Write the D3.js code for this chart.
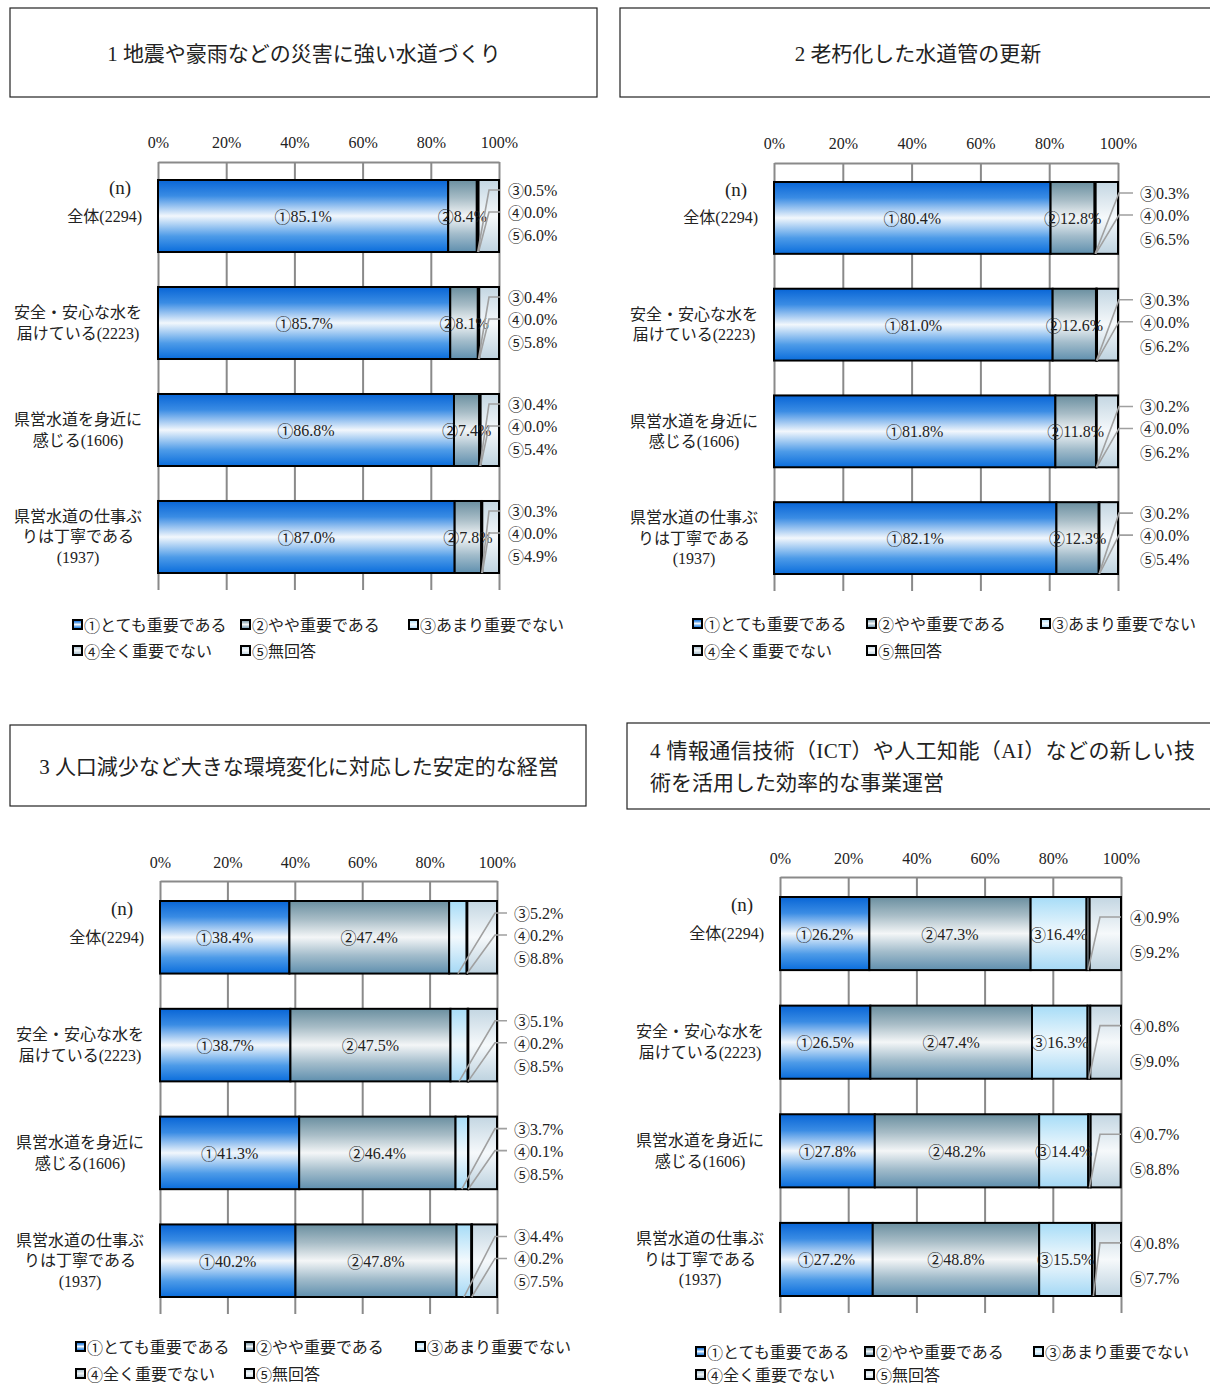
<!DOCTYPE html>
<html>
<head>
<meta charset="utf-8">
<script src="https://cdn.jsdelivr.net/npm/d3@7"></script>
<style>
  body { margin: 0; background: #fff; }
  svg text { font-family: "Liberation Serif", "Noto Sans CJK JP", serif; fill: #222; }
  svg tspan.mark { font-family: "Noto Sans CJK JP", sans-serif; }
</style>
</head>
<body>
<svg id="chart" width="1210" height="1386"></svg>
<script>
// データ
const titles = [
    ["1 地震や豪雨などの災害に強い水道づくり"],
    ["2 老朽化した水道管の更新"],
    ["3 人口減少など大きな環境変化に対応した安定的な経営"],
    ["4 情報通信技術（ICT）や人工知能（AI）などの新しい技", "術を活用した効率的な事業運営"]
];
const categories = [
    ["全体(2294)"],
    ["安全・安心な水を", "届けている(2223)"],
    ["県営水道を身近に", "感じる(1606)"],
    ["県営水道の仕事ぶ", "りは丁寧である", "(1937)"]
];
const seriesNames = ["とても重要である", "やや重要である", "あまり重要でない", "全く重要でない", "無回答"];
const marks = ["①", "②", "③", "④", "⑤"];
const tickValues = [0, 20, 40, 60, 80, 100];

const values1 = [
    [85.1, 8.4, 0.5, 0.0, 6.0],
    [85.7, 8.1, 0.4, 0.0, 5.8],
    [86.8, 7.4, 0.4, 0.0, 5.4],
    [87.0, 7.8, 0.3, 0.0, 4.9]
];
const values2 = [
    [80.4, 12.8, 0.3, 0.0, 6.5],
    [81.0, 12.6, 0.3, 0.0, 6.2],
    [81.8, 11.8, 0.2, 0.0, 6.2],
    [82.1, 12.3, 0.2, 0.0, 5.4]
];
const values3 = [
    [38.4, 47.4, 5.2, 0.2, 8.8],
    [38.7, 47.5, 5.1, 0.2, 8.5],
    [41.3, 46.4, 3.7, 0.1, 8.5],
    [40.2, 47.8, 4.4, 0.2, 7.5]
];
const values4 = [
    [26.2, 47.3, 16.4, 0.9, 9.2],
    [26.5, 47.4, 16.3, 0.8, 9.0],
    [27.8, 48.2, 14.4, 0.7, 8.8],
    [27.2, 48.8, 15.5, 0.8, 7.7]
];

// 配置
const panels = [
    { values: values1, box: [10, 8, 587, 89], titleX: 304, titleY: 54, center: true, titleLen: null,
      x0: 158, x1: 499, tickY: 142, axisY: 162, gridBottom: 590, bars: [180, 573],
      inside: 2, outY: [10, 32, 55], bend: -10, lineEnd: 1, labelDx: 9,
      legendX: [73, 241, 409], legendY: [625, 651] },
    { values: values2, box: [620, 8, 592, 89], titleX: 918, titleY: 54, center: true, titleLen: null,
      x0: 774, x1: 1118, tickY: 143, axisY: 163, gridBottom: 591, bars: [182, 574],
      inside: 2, outY: [11, 33, 57], bend: 1, lineEnd: 15, labelDx: 22,
      legendX: [693, 867, 1041], legendY: [624, 651] },
    { values: values3, box: [10, 725, 576, 81], titleX: 299, titleY: 767, center: true, titleLen: null,
      x0: 160, x1: 497, tickY: 862, axisY: 881, gridBottom: 1314, bars: [901, 1297],
      inside: 2, outY: [12, 34, 57], bend: -2, lineEnd: 10, labelDx: 17,
      legendX: [76, 245, 416], legendY: [1347, 1374] },
    { values: values4, box: [627, 723, 590, 86], titleX: 650, titleY: 751, center: false, titleLen: 545,
      x0: 780, x1: 1121, tickY: 858, axisY: 877, gridBottom: 1313, bars: [897, 1296],
      inside: 3, outY: [20, 55], bend: -21, lineEnd: 0, labelDx: 9,
      legendX: [696, 865, 1034], legendY: [1352, 1375] }
];

const gradStops = [
    [["0%", "#0865d6"], ["22%", "#3a8ce4"], ["50%", "#f2f7fc"], ["78%", "#4d9be8"], ["100%", "#0a6ddc"]],
    [["0%", "#6a8fa0"], ["25%", "#a7bcc6"], ["50%", "#f4f6f7"], ["75%", "#a2bccb"], ["100%", "#5f8fae"]],
    [["0%", "#a6dcf7"], ["50%", "#f2f9fd"], ["100%", "#a4d8f5"]],
    [["0%", "#9fb8c8"], ["50%", "#eef3f6"], ["100%", "#9bb5c6"]],
    [["0%", "#c3d6e2"], ["50%", "#f6f9fb"], ["100%", "#bdd2df"]]
];

const svg = d3.select("#chart");
const defs = svg.append("defs");
gradStops.forEach((stops, i) => {
    const g = defs.append("linearGradient").attr("id", "grad" + i)
        .attr("x1", 0).attr("y1", 0).attr("x2", 0).attr("y2", 1);
    stops.forEach(s => g.append("stop").attr("offset", s[0]).attr("stop-color", s[1]));
});

// 丸数字 + テキスト
function markText(sel, i, rest) {
    sel.append("tspan").attr("class", "mark").text(marks[i]);
    sel.append("tspan").text(rest);
    return sel;
}

panels.forEach((p, idx) => drawPanel(p, idx));

function drawPanel(p, idx) {
    const g = svg.append("g");

    // タイトル枠
    g.append("rect")
        .attr("x", p.box[0]).attr("y", p.box[1])
        .attr("width", p.box[2]).attr("height", p.box[3])
        .attr("fill", "none").attr("stroke", "#222").attr("stroke-width", 1.2);

    titles[idx].forEach((line, i) => {
        const t = g.append("text")
            .attr("x", p.titleX).attr("y", p.titleY + i * 32)
            .attr("text-anchor", p.center ? "middle" : "start")
            .attr("dominant-baseline", "central")
            .style("font-size", "21px")
            .text(line);
        if (p.titleLen && i === 0) t.attr("textLength", p.titleLen).attr("lengthAdjust", "spacing");
    });

    const x = d3.scaleLinear().domain([0, 100]).range([p.x0, p.x1]);
    const y = d3.scaleBand().domain(d3.range(categories.length))
        .range(p.bars).paddingInner(0.327).paddingOuter(0);

    // 軸と目盛線
    const axis = d3.axisTop(x).tickValues(tickValues)
        .tickFormat(d => d + "%")
        .tickSizeInner(-(p.gridBottom - p.axisY)).tickSizeOuter(0).tickPadding(14);
    const ax = g.append("g").attr("transform", `translate(0,${p.axisY})`).call(axis);
    ax.select(".domain").attr("stroke", "#8a8a8a").attr("stroke-width", 2);
    ax.selectAll(".tick line").attr("stroke", "#8a8a8a").attr("stroke-width", 2);
    ax.selectAll(".tick text")
        .attr("y", p.tickY - p.axisY).attr("dy", null)
        .attr("dominant-baseline", "central")
        .style("font-size", "16px").style("fill", "#222")
        .style("font-family", '"Liberation Serif", "Noto Sans CJK JP", serif');

    // (n)
    g.append("text")
        .attr("x", p.x0 - 38).attr("y", y(0) + 7)
        .attr("text-anchor", "middle").attr("dominant-baseline", "central")
        .style("font-size", "19px").text("(n)");

    // カテゴリ
    categories.forEach((lines, r) => {
        const cy = y(r) + y.bandwidth() / 2;
        lines.forEach((line, i) => {
            const single = lines.length === 1;
            g.append("text")
                .attr("x", single ? p.x0 - 16 : p.x0 - 80)
                .attr("y", cy + (i - (lines.length - 1) / 2) * 20.5)
                .attr("text-anchor", single ? "end" : "middle")
                .attr("dominant-baseline", "central")
                .style("font-size", "16px")
                .text(line);
        });
    });

    // 棒
    p.values.forEach((row, r) => {
        let acc = 0;
        const segs = row.map((v, i) => {
            const s = { i, v, start: acc, end: acc + v };
            acc += v;
            return s;
        });
        const top = y(r), h = y.bandwidth(), bottom = top + h;
        const rowG = g.append("g");

        rowG.selectAll("rect")
            .data(segs)
            .enter()
            .append("rect")
            .attr("x", d => x(d.start))
            .attr("y", top)
            .attr("width", d => Math.max(0, Math.min(x(d.end), p.x1) - x(d.start)))
            .attr("height", h)
            .attr("fill", d => `url(#grad${d.i})`)
            .attr("stroke", "#000").attr("stroke-width", 2);

        // 内側ラベル
        segs.filter(d => d.i < p.inside).forEach(d => {
            const t = rowG.append("text")
                .attr("x", (x(d.start) + x(d.end)) / 2).attr("y", top + h / 2)
                .attr("text-anchor", "middle").attr("dominant-baseline", "central")
                .style("font-size", "16px");
            markText(t, d.i, d.v.toFixed(1) + "%");
        });

        // 外側ラベル
        const outside = segs.filter(d => d.i >= p.inside);
        outside.forEach((d, k) => {
            const ly = top + p.outY[k];
            if (d.i < 4) {
                const sx = (x(d.start) + x(d.end)) / 2;
                rowG.append("polyline")
                    .attr("points", [[sx, bottom], [p.x1 + p.bend, ly], [p.x1 + p.lineEnd, ly]].map(q => q.join(",")).join(" "))
                    .attr("fill", "none").attr("stroke", "#a0a0a0").attr("stroke-width", 1.6);
            }
            const t = rowG.append("text")
                .attr("x", p.x1 + p.labelDx).attr("y", ly)
                .attr("dominant-baseline", "central")
                .style("font-size", "16px");
            markText(t, d.i, d.v.toFixed(1) + "%");
        });
    });

    // 凡例
    const legendPos = [[0, 0], [1, 0], [2, 0], [0, 1], [1, 1]];
    seriesNames.forEach((name, i) => {
        const lx = p.legendX[legendPos[i][0]], ly = p.legendY[legendPos[i][1]];
        g.append("rect")
            .attr("x", lx).attr("y", ly - 5).attr("width", 9).attr("height", 9)
            .attr("fill", `url(#grad${i})`).attr("stroke", "#000").attr("stroke-width", 2);
        const t = g.append("text")
            .attr("x", lx + 11).attr("y", ly)
            .attr("dominant-baseline", "central")
            .style("font-size", "16px");
        markText(t, i, name);
    });
}
</script>
</body>
</html>
